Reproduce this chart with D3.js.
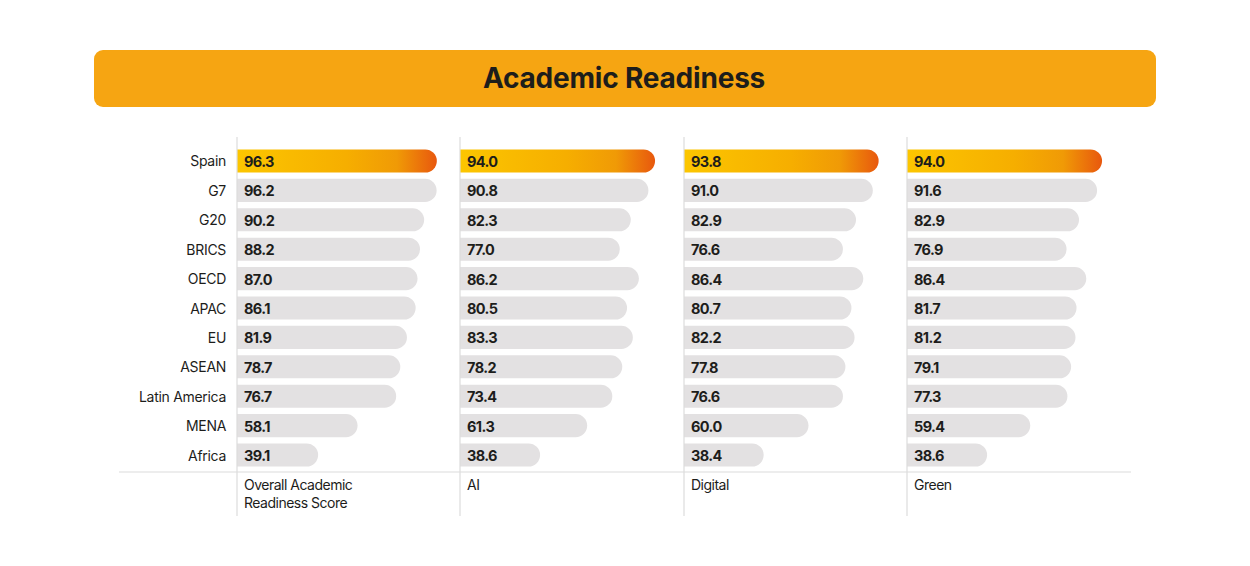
<!DOCTYPE html>
<html><head><meta charset="utf-8">
<script src="https://cdn.jsdelivr.net/npm/d3@7"></script>
<style>body{margin:0;background:#fff;} svg{display:block;}</style>
</head><body>
<script>
const categories = ["Spain","G7","G20","BRICS","OECD","APAC","EU","ASEAN","Latin America","MENA","Africa"];
const panels = [["Overall Academic","Readiness Score"],["AI"],["Digital"],["Green"]];
const overall = [96.3,96.2,90.2,88.2,87.0,86.1,81.9,78.7,76.7,58.1,39.1];
const ai      = [94.0,90.8,82.3,77.0,86.2,80.5,83.3,78.2,73.4,61.3,38.6];
const digital = [93.8,91.0,82.9,76.6,86.4,80.7,82.2,77.8,76.6,60.0,38.4];
const green   = [94.0,91.6,82.9,76.9,86.4,81.7,81.2,79.1,77.3,59.4,38.6];
const series = [overall, ai, digital, green];
const title = "Academic Readiness";

const W = 1250, H = 566;
const svg = d3.select("body").append("svg").attr("width", W).attr("height", H);

const defs = svg.append("defs");
const grad = defs.append("linearGradient").attr("id","hl").attr("x1","0%").attr("x2","100%");
grad.append("stop").attr("offset","0%").attr("stop-color","#FCC600");
grad.append("stop").attr("offset","55%").attr("stop-color","#F6AE00");
grad.append("stop").attr("offset","80%").attr("stop-color","#F09A06");
grad.append("stop").attr("offset","100%").attr("stop-color","#E8580E");

// title bar
svg.append("rect").attr("x",94).attr("y",50).attr("width",1062).attr("height",57)
  .attr("rx",9).attr("fill","#F6A512");
svg.append("text").attr("x",624).attr("y",78).attr("text-anchor","middle")
  .attr("dominant-baseline","central")
  .style("font-family","Inter, 'Open Sans', sans-serif").style("font-weight",700)
  .style("font-size","28px").style("letter-spacing","-0.2px").attr("fill","#1d1d1b").text(title);

const panelX = d3.scalePoint().domain(d3.range(4)).range([237, 907]);
const y = d3.scaleBand().domain(categories).range([146.5, 469.5]).paddingInner(0.215).paddingOuter(0.1);
const x = d3.scaleLinear().domain([0,100]).range([0,207.5]);

// category labels
svg.append("g").selectAll("text").data(categories).join("text")
  .attr("x",226).attr("y",d=>y(d)+y.bandwidth()/2).attr("text-anchor","end")
  .attr("dominant-baseline","central")
  .style("font-family","Inter, 'Open Sans', sans-serif").style("font-size","14px")
  .style("letter-spacing","-0.3px").attr("fill","#1d1d1b").text(d=>d);

function barPath(x0, y0, w, h){
  const r = Math.min(h/2, w);
  return `M${x0},${y0}H${x0+w-r}A${r},${r} 0 0 1 ${x0+w},${y0+r}V${y0+h-r}A${r},${r} 0 0 1 ${x0+w-r},${y0+h}H${x0}Z`;
}

series.forEach((vals, p) => {
  const x0 = Math.round(panelX(p));
  const g = svg.append("g");
  g.selectAll("path").data(vals).join("path")
    .attr("d",(v,i)=>barPath(x0, y(categories[i]), x(v), y.bandwidth()))
    .attr("fill",(v,i)=> i===0 ? "url(#hl)" : "#E3E1E2");
  g.selectAll("text").data(vals).join("text")
    .attr("x", x0+7).attr("y",(v,i)=>y(categories[i])+y.bandwidth()/2+0.5)
    .attr("dominant-baseline","central")
    .style("font-family","Inter, 'Open Sans', sans-serif").style("font-weight",700)
    .style("font-size","14.5px").style("letter-spacing","-0.6px").attr("fill","#1d1d1b")
    .text(v=>d3.format(".1f")(v));
  // column vertical line
  svg.append("line").attr("x1",x0).attr("x2",x0).attr("y1",137).attr("y2",516)
    .attr("stroke","#dcdcdc").attr("stroke-width",1.2);
  // column label
  const t = svg.append("text").attr("x",x0+7).attr("y",490)
    .style("font-family","Inter, 'Open Sans', sans-serif").style("font-size","14px")
    .style("letter-spacing","-0.5px").attr("fill","#1d1d1b");
  panels[p].forEach((line, k) => {
    t.append("tspan").attr("x",x0+7).attr("y",490+k*18).text(line);
  });
});

svg.append("line").attr("x1",119).attr("x2",1131).attr("y1",472).attr("y2",472)
  .attr("stroke","#dcdcdc").attr("stroke-width",1.2);
</script>
</body></html>
